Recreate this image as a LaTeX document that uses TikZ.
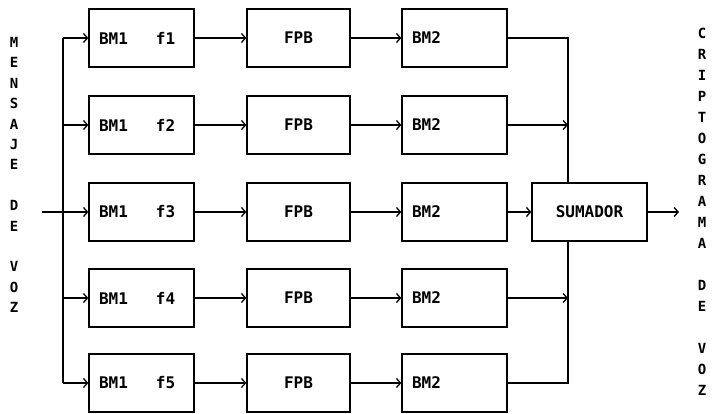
\documentclass[tikz,border=0pt]{standalone}
\usepackage{fontspec}
\setmainfont{DejaVu Sans Mono}
\usepackage{tikz}
\usetikzlibrary{positioning,arrows.meta}
\newcommand{\blkfont}{\fontsize{16}{18}\selectfont\bfseries}
\newcommand{\lftfont}{\fontsize{14}{20.4}\selectfont\bfseries}
\newcommand{\rgtfont}{\fontsize{14}{21}\selectfont\bfseries}
\newcommand{\bmf}[1]{BM1\hspace{28pt}f#1}
\tikzset{
  modblk/.style  = {draw, line width=1.3pt, minimum height=58pt, inner xsep=10pt,
                    text width=85pt, align=left, font=\blkfont},
  fpbblk/.style  = {draw, line width=1.3pt, minimum height=58pt, inner xsep=10pt,
                    text width=83pt, align=center, font=\blkfont},
  sumblk/.style  = {draw, line width=1.3pt, minimum height=58pt, minimum width=115pt,
                    inner sep=0pt, font=\blkfont},
  sidetxt/.style = {align=center, inner sep=0pt},
  sig/.style     = {-{Straight Barb[length=4pt,width=9pt]}, line width=1.3pt},
  wire/.style    = {line width=1.3pt}
}

\begin{document}
\begin{tikzpicture}[x=1pt, y=-1pt]
  \useasboundingbox (0,0) rectangle (712,414);
  % Side labels
  \node[sidetxt, font=\lftfont] (msg) at (14,175)
    {M\\E\\N\\S\\A\\J\\E\\~\\D\\E\\~\\V\\O\\Z};
  \node[sidetxt, font=\rgtfont] (cripto) at (702,212)
    {C\\R\\I\\P\\T\\O\\G\\R\\A\\M\\A\\~\\D\\E\\~\\V\\O\\Z};
  % BM1 column
  \node[modblk] (bma) at (141.5, 38) {\bmf{1}};
  \node[modblk] (bmb) at (141.5,125) {\bmf{2}};
  \node[modblk] (bmc) at (141.5,212) {\bmf{3}};
  \node[modblk] (bmd) at (141.5,298) {\bmf{4}};
  \node[modblk] (bme) at (141.5,383) {\bmf{5}};
  % FPB column
  \node[fpbblk] (fpba) at (298.5, 38) {FPB};
  \node[fpbblk] (fpbb) at (298.5,125) {FPB};
  \node[fpbblk] (fpbc) at (298.5,212) {FPB};
  \node[fpbblk] (fpbd) at (298.5,298) {FPB};
  \node[fpbblk] (fpbe) at (298.5,383) {FPB};
  % BM2 column
  \node[modblk] (bmza) at (454.5, 38) {BM2};
  \node[modblk] (bmzb) at (454.5,125) {BM2};
  \node[modblk] (bmzc) at (454.5,212) {BM2};
  \node[modblk] (bmzd) at (454.5,298) {BM2};
  \node[modblk] (bmze) at (454.5,383) {BM2};
  % Adder
  \node[sumblk] (sum) at (589.5,212) {SUMADOR};
  % Bus and collector points
  \coordinate (in)   at (42,212);
  \coordinate (busa) at (63, 38);
  \coordinate (busb) at (63,125);
  \coordinate (busd) at (63,298);
  \coordinate (buse) at (63,383);
  \coordinate (cola) at (568, 38);
  \coordinate (colb) at (568,125);
  \coordinate (cold) at (568,298);
  \coordinate (cole) at (568,383);
  \coordinate (outp) at (679,212);
  % Input bus
  \draw[wire] (busa) -- (buse);
  \draw[sig] (in) -- (bmc);
  \draw[sig] (busa) -- (bma); \draw[sig] (busb) -- (bmb);
  \draw[sig] (busd) -- (bmd); \draw[sig] (buse) -- (bme);
  % Rows
  \draw[sig] (bma) -- (fpba); \draw[sig] (fpba) -- (bmza);
  \draw[sig] (bmb) -- (fpbb); \draw[sig] (fpbb) -- (bmzb);
  \draw[sig] (bmc) -- (fpbc); \draw[sig] (fpbc) -- (bmzc);
  \draw[sig] (bmd) -- (fpbd); \draw[sig] (fpbd) -- (bmzd);
  \draw[sig] (bme) -- (fpbe); \draw[sig] (fpbe) -- (bmze);
  % Collector
  \draw[wire] (bmza) -- (cola) -- (cola |- sum.north);
  \draw[wire] (bmze) -- (cole) -- (cole |- sum.south);
  \draw[sig] (bmzb) -- (colb);
  \draw[sig] (bmzd) -- (cold);
  \draw[sig] (bmzc) -- (sum);
  \draw[sig] (sum) -- (outp);
\end{tikzpicture}
\end{document}
